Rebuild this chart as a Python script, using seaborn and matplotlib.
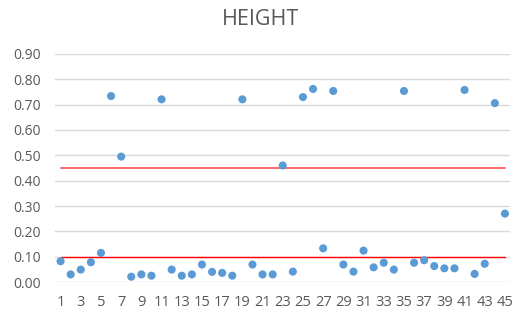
import matplotlib
matplotlib.use('Agg')
import matplotlib.pyplot as plt
import pandas as pd
import seaborn as sns

# Sample number and measured height
sample = list(range(1, 46))
height = [0.082, 0.030, 0.049, 0.078, 0.115, 0.734, 0.495, 0.021, 0.030, 0.025,
          0.721, 0.049, 0.025, 0.030, 0.069, 0.040, 0.036, 0.025, 0.721, 0.069,
          0.030, 0.030, 0.460, 0.041, 0.730, 0.762, 0.133, 0.754, 0.069, 0.041,
          0.124, 0.058, 0.076, 0.049, 0.754, 0.076, 0.086, 0.063, 0.054, 0.054,
          0.758, 0.032, 0.072, 0.706, 0.270]
upper_limit = 0.45
lower_limit = 0.097
x_ticks = list(range(1, 46, 2))
y_ticks = [0.0, 0.1, 0.2, 0.3, 0.4, 0.5, 0.6, 0.7, 0.8, 0.9]

df = pd.DataFrame({'sample': sample, 'height': height})

sns.set_style('white')
plt.rcParams['font.family'] = ['Open Sans', 'DejaVu Sans']

fig = plt.figure(figsize=(5.22, 3.11), dpi=100)
ax = fig.add_axes([0.1054, 0.0932, 0.8716, 0.7332])

for t in y_ticks:
    ax.axhline(t, color='#d9d9d9', lw=1, zorder=0)

ax.plot([sample[0], sample[-1]], [upper_limit, upper_limit], color='#ff5b5b', lw=1.3, zorder=1)
ax.plot([sample[0], sample[-1]], [lower_limit, lower_limit], color='#ff0000', lw=1.0, zorder=1)

sns.scatterplot(data=df, x='sample', y='height', color='#5b9bd5', s=34,
                edgecolor='none', ax=ax, zorder=3)

ax.set_xlim(0.45, 45.5)
ax.set_ylim(0, 0.9)
ax.set_xticks(x_ticks)
ax.set_xticklabels([str(v) for v in x_ticks])
ax.set_yticks(y_ticks)
ax.set_yticklabels([f'{v:.2f}' for v in y_ticks])
ax.tick_params(axis='both', length=0, colors='#595959')
ax.tick_params(axis='x', pad=9, labelsize=10.5)
ax.tick_params(axis='y', pad=10, labelsize=10)
ax.set_xlabel('')
ax.set_ylabel('')
sns.despine(ax=ax, left=True, bottom=True)

fig.suptitle('HEIGHT', x=0.5, y=0.97, fontsize=15.5, color='#595959')

plt.savefig('out.png', dpi=100)
